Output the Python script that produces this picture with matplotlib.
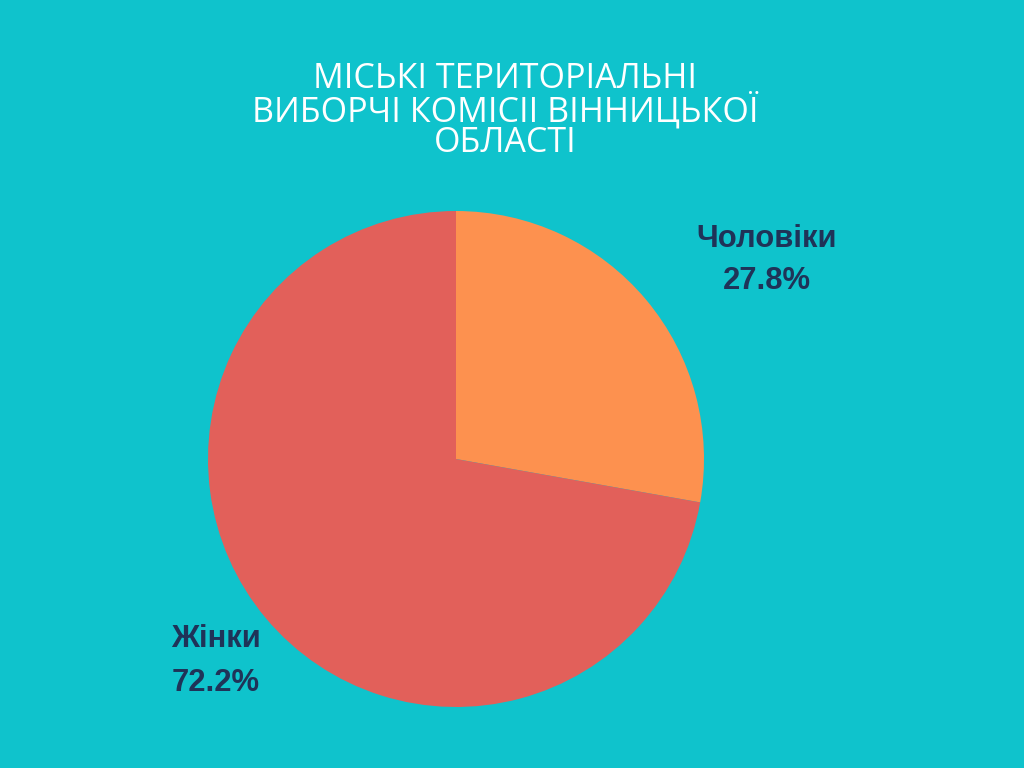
import matplotlib
matplotlib.use("Agg")
import matplotlib.pyplot as plt

title = "МІСЬКІ ТЕРИТОРІАЛЬНІ\nВИБОРЧІ КОМІСІІ ВІННИЦЬКОЇ\nОБЛАСТІ"
categories = ["Чоловіки", "Жінки"]
values = [27.8, 72.2]
colors = ["#FD914F", "#E2605A"]
bg = "#0FC3CC"
label_color = "#1F3358"

fig = plt.figure(figsize=(10.24, 7.68), dpi=100, facecolor=bg)
W, H = 1024, 768
cx, cy, r = 456, 459, 248
ax = fig.add_axes([(cx - r) / W, (H - cy - r) / H, 2 * r / W, 2 * r / H])
ax.set_facecolor(bg)
ax.pie(values, colors=colors, startangle=90, counterclock=False, radius=1,
       wedgeprops=dict(linewidth=0))
ax.set_xlim(-1, 1)
ax.set_ylim(-1, 1)
ax.set_aspect("equal")
ax.axis("off")

def px(x, y):
    return ((x - cx) / r, (cy - y) / r)

label_pos = [((767, 239), (767, 281)), ((216, 639), (216, 683))]
for cat, val, (p1, p2) in zip(categories, values, label_pos):
    ax.text(*px(*p1), cat, ha="center", va="center", fontsize=22.3, fontweight="bold",
            family="Liberation Sans", color=label_color)
    ax.text(*px(*p2), f"{val:.1f}%", ha="center", va="center", fontsize=22.3,
            fontweight="bold", family="Liberation Sans", color=label_color)

fig.text(505 / W, 1 - 111 / H, title, ha="center", va="center", color="white",
         fontsize=24.5, family="Open Sans", linespacing=0.88)

fig.savefig("out.png", dpi=100, facecolor=bg)
